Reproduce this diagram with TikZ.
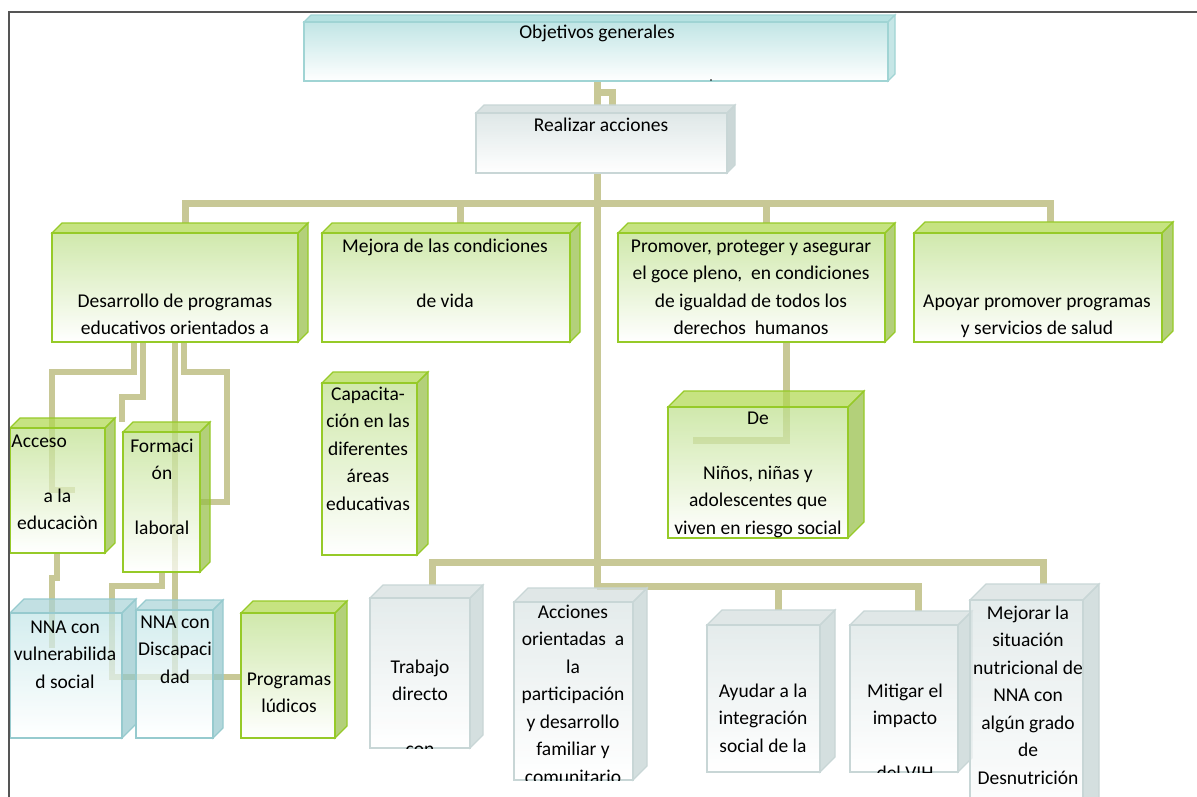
\documentclass[tikz,border=0pt]{standalone}
\usepackage{fontspec}
\setmainfont{Carlito}
\usetikzlibrary{calc}
\pgfdeclarelayer{bg}
\pgfsetlayers{bg,main}
\definecolor{conncol}{RGB}{200,200,150}
\definecolor{framecol}{RGB}{85,85,85}
\definecolor{gbd}{RGB}{150,202,40}
\definecolor{gtop}{RGB}{176,216,80}
\definecolor{gside}{RGB}{150,190,70}
\definecolor{gft}{RGB}{190,224,140}
\definecolor{cbd}{RGB}{160,212,212}
\definecolor{ctop}{RGB}{172,222,222}
\definecolor{cside}{RGB}{190,226,226}
\definecolor{cft}{RGB}{185,226,226}
\definecolor{nbd}{RGB}{150,202,206}
\definecolor{ntop}{RGB}{170,212,216}
\definecolor{nside}{RGB}{150,200,205}
\definecolor{nft}{RGB}{195,230,232}
\definecolor{wbd}{RGB}{200,214,214}
\definecolor{wtop}{RGB}{212,222,222}
\definecolor{wside}{RGB}{196,210,210}
\definecolor{wft}{RGB}{218,228,228}
\newcommand{\tdop}{0.7}
% name, x1, y1, x2, y2, depth, palette
\newcommand{\tdbox}[7]{%
  \begin{scope}[fill opacity=\tdop]
    \filldraw[fill=#7top, draw=#7bd, line width=1.2]
      (#2,#3) -- ({#2+#6},{#3-#6}) -- ({#4+#6},{#3-#6}) -- (#4,#3) -- cycle;
    \filldraw[fill=#7side, draw=#7bd, line width=1.2]
      (#4,#3) -- ({#4+#6},{#3-#6}) -- ({#4+#6},{#5-#6}) -- (#4,#5) -- cycle;
    \node[draw=#7bd, line width=1.8, top color=#7ft, bottom color=white,
      minimum width={(#4-#2)*1pt}, minimum height={(#5-#3)*1pt},
      inner sep=0, outer sep=0] (#1) at ({(#2+#4)/2},{(#3+#5)/2}) {};
  \end{scope}
  \coordinate (#1t) at ({(#2+#4)/2+#6},{#3-#6});
}
\tikzset{
  conn/.style={draw=conncol, line width=7, line join=miter},
  connthin/.style={draw=conncol, line width=6, line join=miter},
  txt/.style={align=center, inner sep=0, anchor=north,
    font=\fontsize{19.5}{27.5}\selectfont},
}
\begin{document}
\begin{tikzpicture}[x=1pt,y=-1pt]
\useasboundingbox (0,0) rectangle (1197,796);
\clip (0,0) rectangle (1197,796);

% ---------- boxes ----------
\renewcommand{\tdop}{0.88}
\tdbox{obj}{304}{22}{888}{81}{7}{c}
\tdbox{real}{476}{113}{727}{173}{8}{w}
\renewcommand{\tdop}{0.72}
\tdbox{A}{52}{233}{298}{342}{10}{g}
\tdbox{B}{322}{233}{570}{342}{10}{g}
\tdbox{C}{618}{233}{885}{342}{10}{g}
\tdbox{D}{914}{233}{1162}{342}{11}{g}
\tdbox{de}{668}{407}{848}{538}{16}{g}
\tdbox{acc}{10}{428}{105}{553}{10}{g}
\tdbox{form}{123}{432}{200}{572}{10}{g}
\tdbox{cap}{322}{383}{417}{555}{11}{g}
\tdbox{nnav}{10}{613}{122}{738}{14}{n}
\tdbox{nnad}{136}{610}{213}{738}{10}{n}
\tdbox{prog}{241}{613}{335}{738}{12}{g}
\tdbox{trab}{370}{598}{470}{748}{13}{w}
\tdbox{acci}{514}{602}{633}{780}{14}{w}
\tdbox{ayud}{707}{625}{820}{772}{15}{w}
\tdbox{miti}{850}{625}{958}{772}{14}{w}
\tdbox{mejo}{970}{600}{1083}{830}{16}{w}

% ---------- connectors (behind boxes) ----------
\begin{pgfonlayer}{bg}
\draw[conn] (obj.south -| 597,0) -- (realt -| 597,0);
\draw[conn] (597,92) -- (612,92) -- (612,106);
\draw[conn] (real.south -| 597,0) -- (accit -| 597,0);
\draw[conn] (At -| 185,0) -- (185,203) -- (1050,203) -- (Dt -| 1050,0);
\draw[conn] (Bt -| 460,0) -- (460,203);
\draw[conn] (Ct -| 766,0) -- (766,203);
\draw[conn] (C.south -| 786,0) -- (786,440) -- (693,440);
\draw[conn] (trabt -| 432,0) -- (432,562) -- (1043,562) -- (mejot -| 1043,0);
\draw[conn] (597,586) -- (918,586) -- (mitit -| 918,0);
\draw[conn] (ayudt -| 778,0) -- (778,586);
% left cluster
\draw[connthin] (A.south -| 134,0) -- (134,372) -- (52,372) -- (52,490) -- (75,490);
\draw[connthin] (A.south -| 143,0) -- (143,397) -- (122,397) -- (formt -| 122,0);
\draw[connthin] (A.south -| 175,0) -- (175,677) -- (prog.west |- 0,677);
\draw[connthin] (form.south -| 162,0) -- (162,586) -- (112,586) -- (112,677) -- (175,677);
\draw[connthin] (A.south -| 184,0) -- (184,372) -- (227,372) -- (227,502) -- (form.east |- 0,502);
\draw[connthin] (acc.south -| 57,0) -- (57,578) -- (52,578) -- (52,648);
\end{pgfonlayer}

\fill[black] (711,80) circle (0.8);

% ---------- texts ----------
\node[txt] (tobj) at (597,19) {\strut Objetivos generales};
\node[txt] (treal) at (601,112) {\strut Realizar acciones};
\node[txt] (tA) at (175,288) {\strut Desarrollo de programas\\educativos orientados a};
\node[txt] (tB) at (445,233) {\strut Mejora de las condiciones\\\strut\\de vida};
\node[txt] (tC) at (751,233) {\strut Promover, proteger y asegurar\\el goce pleno,\ \ en condiciones\\de igualdad de todos los\\derechos\ \ humanos};
\node[txt] (tD) at (1037,288) {\strut Apoyar promover programas\\y servicios de salud};
\node[txt] (tde) at (758,405) {\strut De\\\strut\\Niños, niñas y\\adolescentes que\\viven en riesgo social};
\node[txt] (tacc) at (57.5,428) {\strut\makebox[92pt][l]{Acceso}\\\strut\\a la\\educaciòn};
\node[txt] (tform) at (162,433) {\strut Formaci\\ón\\\strut\\laboral};
\node[txt] (tcap) at (368,381) {\strut Capacita-\\ción en las\\diferentes\\áreas\\educativas};
\node[txt] (tnnav) at (65,614) {\strut NNA con\\vulnerabilida\\d social};
\node[txt] (tnnad) at (175,609) {\strut NNA con\\Discapaci\\dad};
\node[txt] (tprog) at (289,666) {\strut Programas\\lúdicos};
\begin{scope}
  \clip (trab.north west) rectangle (trab.south east);
  \node[txt] (ttrab) at (420,654) {\strut Trabajo\\directo\\\strut\\con};
\end{scope}
\begin{scope}
  \clip (acci.north west) rectangle (acci.south east);
  \node[txt] (tacci) at (573,599) {\strut Acciones\\orientadas\ \ a\\la\\participación\\y desarrollo\\familiar y\\comunitario};
\end{scope}
\node[txt] (tayud) at (763,678) {\strut Ayudar a la\\integración\\social de la};
\begin{scope}
  \clip (miti.north west) rectangle (miti.south east);
  \node[txt] (tmiti) at (905,678) {\strut Mitigar el\\impacto\\\strut\\del VIH};
\end{scope}
\node[txt] (tmejo) at (1028,600) {\strut Mejorar la\\situación\\nutricional de\\NNA con\\algún grado\\de\\Desnutrición};

% ---------- frame ----------
\draw[framecol, line width=2.2] (9,800) -- (9,12) -- (1200,12);
\end{tikzpicture}
\end{document}
